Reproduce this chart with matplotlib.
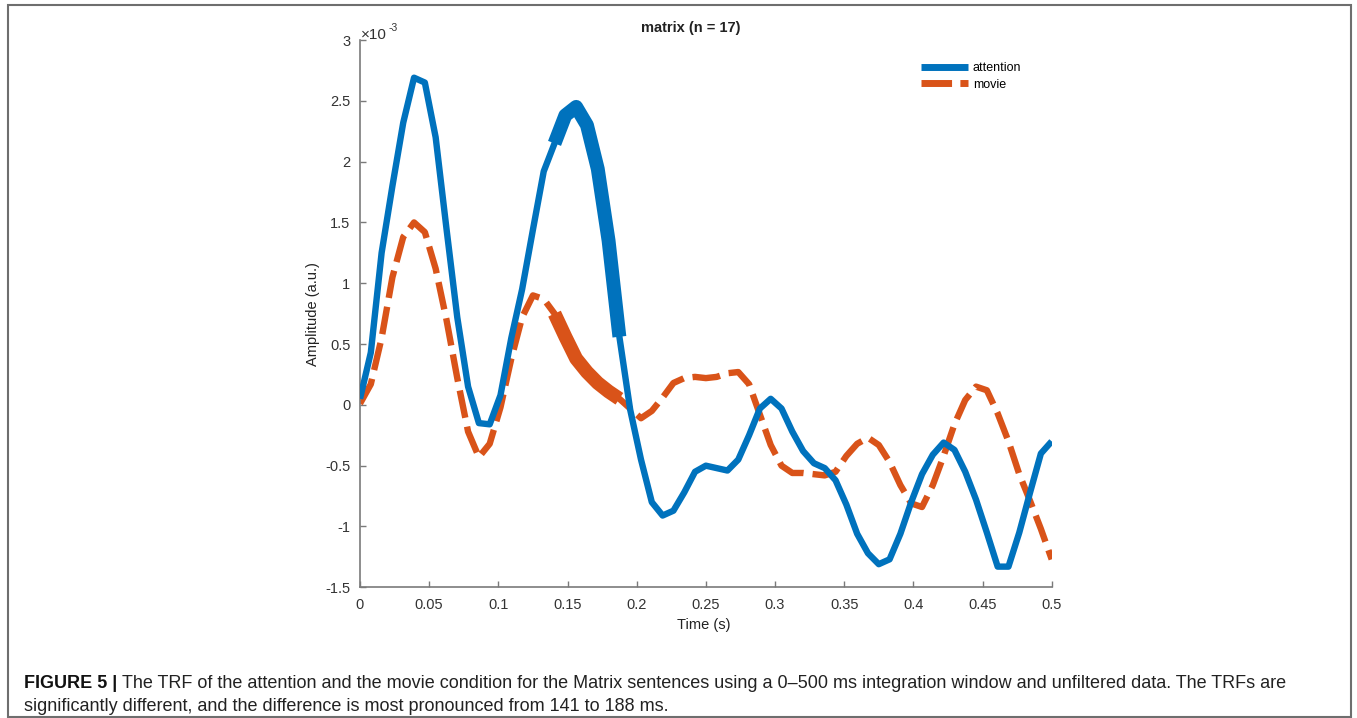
import matplotlib
matplotlib.use("Agg")
import matplotlib.pyplot as plt
from matplotlib.lines import Line2D
from matplotlib.patches import Rectangle
import numpy as np

plt.rcParams['font.family'] = ['Liberation Sans', 'DejaVu Sans']
plt.rcParams['lines.scale_dashes'] = False

# ---- data (amplitude in units of 1e-3, sampled at 128 Hz) ----
fs = 128
attention = [0.05, 0.43, 1.25, 1.80, 2.32, 2.69, 2.65, 2.20, 1.45, 0.72, 0.15,
             -0.15, -0.16, 0.08, 0.55, 0.95, 1.44, 1.92, 2.15, 2.38, 2.45, 2.30,
             1.94, 1.35, 0.56, -0.04, -0.45, -0.80, -0.91, -0.87, -0.72, -0.55,
             -0.50, -0.52, -0.54, -0.45, -0.25, -0.03, 0.05, -0.03, -0.22, -0.38,
             -0.48, -0.52, -0.62, -0.82, -1.06, -1.22, -1.31, -1.27, -1.06, -0.80,
             -0.57, -0.41, -0.31, -0.37, -0.55, -0.78, -1.05, -1.33, -1.33, -1.05,
             -0.72, -0.40, -0.30]
movie = [0.01, 0.17, 0.55, 1.05, 1.38, 1.50, 1.42, 1.12, 0.70, 0.22, -0.22,
         -0.43, -0.32, -0.02, 0.38, 0.72, 0.90, 0.87, 0.75, 0.56, 0.38, 0.27,
         0.18, 0.11, 0.05, -0.03, -0.11, -0.05, 0.06, 0.18, 0.22, 0.23, 0.22,
         0.23, 0.26, 0.27, 0.17, -0.08, -0.33, -0.50, -0.56, -0.56, -0.57,
         -0.58, -0.55, -0.42, -0.32, -0.27, -0.33, -0.47, -0.66, -0.81, -0.84,
         -0.66, -0.42, -0.16, 0.04, 0.15, 0.12, -0.07, -0.30, -0.57, -0.79,
         -1.02, -1.27]
sig_start, sig_end = 18, 24          # 141 ms .. 188 ms
labels = ["attention", "movie"]
xticks = [0, 0.05, 0.1, 0.15, 0.2, 0.25, 0.3, 0.35, 0.4, 0.45, 0.5]
xticklabels = ["0", "0.05", "0.1", "0.15", "0.2", "0.25", "0.3", "0.35", "0.4", "0.45", "0.5"]
yticks = [-1.5, -1, -0.5, 0, 0.5, 1, 1.5, 2, 2.5, 3]
yticklabels = ["-1.5", "-1", "-0.5", "0", "0.5", "1", "1.5", "2", "2.5", "3"]
title = "matrix (n = 17)"
caption_bold = "FIGURE 5 | "
caption_line1 = ("The TRF of the attention and the movie condition for the Matrix sentences using a "
                 "0\u2013500 ms integration window and unfiltered data. The TRFs are")
caption_line2 = "significantly different, and the difference is most pronounced from 141 to 188 ms."

BLUE = "#0072BD"
ORANGE = "#D95319"
AX_COL = "#7a7a7a"
TXT_COL = "#333333"

W, H = 1357, 718
fig = plt.figure(figsize=(W / 100, H / 100), dpi=100)

def fx(px):
    return px / W

def fy(py):
    return 1 - py / H

L, R, T, B = 360, 1051.7, 40, 587.3
ax = fig.add_axes([fx(L), fy(B), fx(R - L), (B - T) / H])

t = np.arange(len(attention)) / fs
att = np.array(attention)
mov = np.array(movie)

ax.plot(t, att, color=BLUE, lw=4.6, solid_joinstyle='round', solid_capstyle='butt',
        label=labels[0], zorder=3)
ax.plot(t, mov, color=ORANGE, lw=4.6, dashes=(20, 6.5), dash_capstyle='butt',
        label=labels[1], zorder=2)
seg = slice(sig_start, sig_end + 1)
ax.plot(t[seg], att[seg], color=BLUE, lw=10, solid_capstyle='butt',
        solid_joinstyle='round', zorder=4)
ax.plot(t[seg], mov[seg], color=ORANGE, lw=10, solid_capstyle='butt',
        solid_joinstyle='round', zorder=4)

ax.set_xlim(0, 0.5)
ax.set_ylim(-1.5, 3)
ax.set_xticks(xticks)
ax.set_xticklabels(xticklabels)
ax.set_yticks(yticks)
ax.set_yticklabels(yticklabels)
for s in ["top", "right"]:
    ax.spines[s].set_visible(False)
for s in ["left", "bottom"]:
    ax.spines[s].set_color(AX_COL)
    ax.spines[s].set_linewidth(1.2)
ax.tick_params(direction='in', length=4, width=1.0, color=AX_COL,
               labelcolor=TXT_COL, labelsize=10.5)
ax.tick_params(axis='y', pad=7)
ax.tick_params(axis='x', pad=8)

ax.set_xlabel("Time (s)", fontsize=10.5, color="#222222", va='center')
ax.xaxis.set_label_coords(0.497, (B - 625) / (B - T))
ax.set_ylabel("Amplitude (a.u.)", fontsize=10.5, color="#222222", va='center')
ax.yaxis.set_label_coords((313 - L) / (R - L), 0.5)

fig.text(fx(691), fy(28), title, ha='center', va='center', fontsize=10.5,
         fontweight='bold', color="#222222")
fig.text(fx(361), fy(39), "\u00d710", ha='left', va='baseline', fontsize=11, color=TXT_COL)
fig.text(fx(389), fy(31), "-3", ha='left', va='baseline', fontsize=7.5, color=TXT_COL)

handles = [Line2D([], [], color=BLUE, lw=5, solid_capstyle='butt'),
           Line2D([], [], color=ORANGE, lw=5, dashes=(22, 6), dash_capstyle='butt')]
fig.legend(handles, labels, loc='upper left', bbox_to_anchor=(fx(921), fy(62)),
           frameon=False, fontsize=9, handlelength=3.75, handletextpad=0.4,
           labelspacing=0.36, borderpad=0, borderaxespad=0)

# outer frame
fig.add_artist(Rectangle((fx(8), fy(717)), fx(1351 - 8), (717 - 5) / H,
                         transform=fig.transFigure, fill=False,
                         edgecolor="#6e6e6e", lw=1.5))

# caption
fig.canvas.draw()
r = fig.canvas.get_renderer()
fs_cap = 11.5
tb = fig.text(fx(24), fy(688), caption_bold, fontsize=fs_cap, fontweight='bold',
              color="#111111", va='baseline', ha='left')
t1 = fig.text(0, fy(688), caption_line1, fontsize=fs_cap, color="#222222",
              va='baseline', ha='left')
t2 = fig.text(fx(24), fy(711), caption_line2, fontsize=fs_cap, color="#222222",
              va='baseline', ha='left')
wb = tb.get_window_extent(r).width
w1 = t1.get_window_extent(r).width
scale = (1290 - 24) / (wb + w1)
for tt in (tb, t1, t2):
    tt.set_fontsize(fs_cap * scale)
fig.canvas.draw()
wb = tb.get_window_extent(r).width
t1.set_x(fx(24 + wb))

fig.savefig("out.png", dpi=100)
